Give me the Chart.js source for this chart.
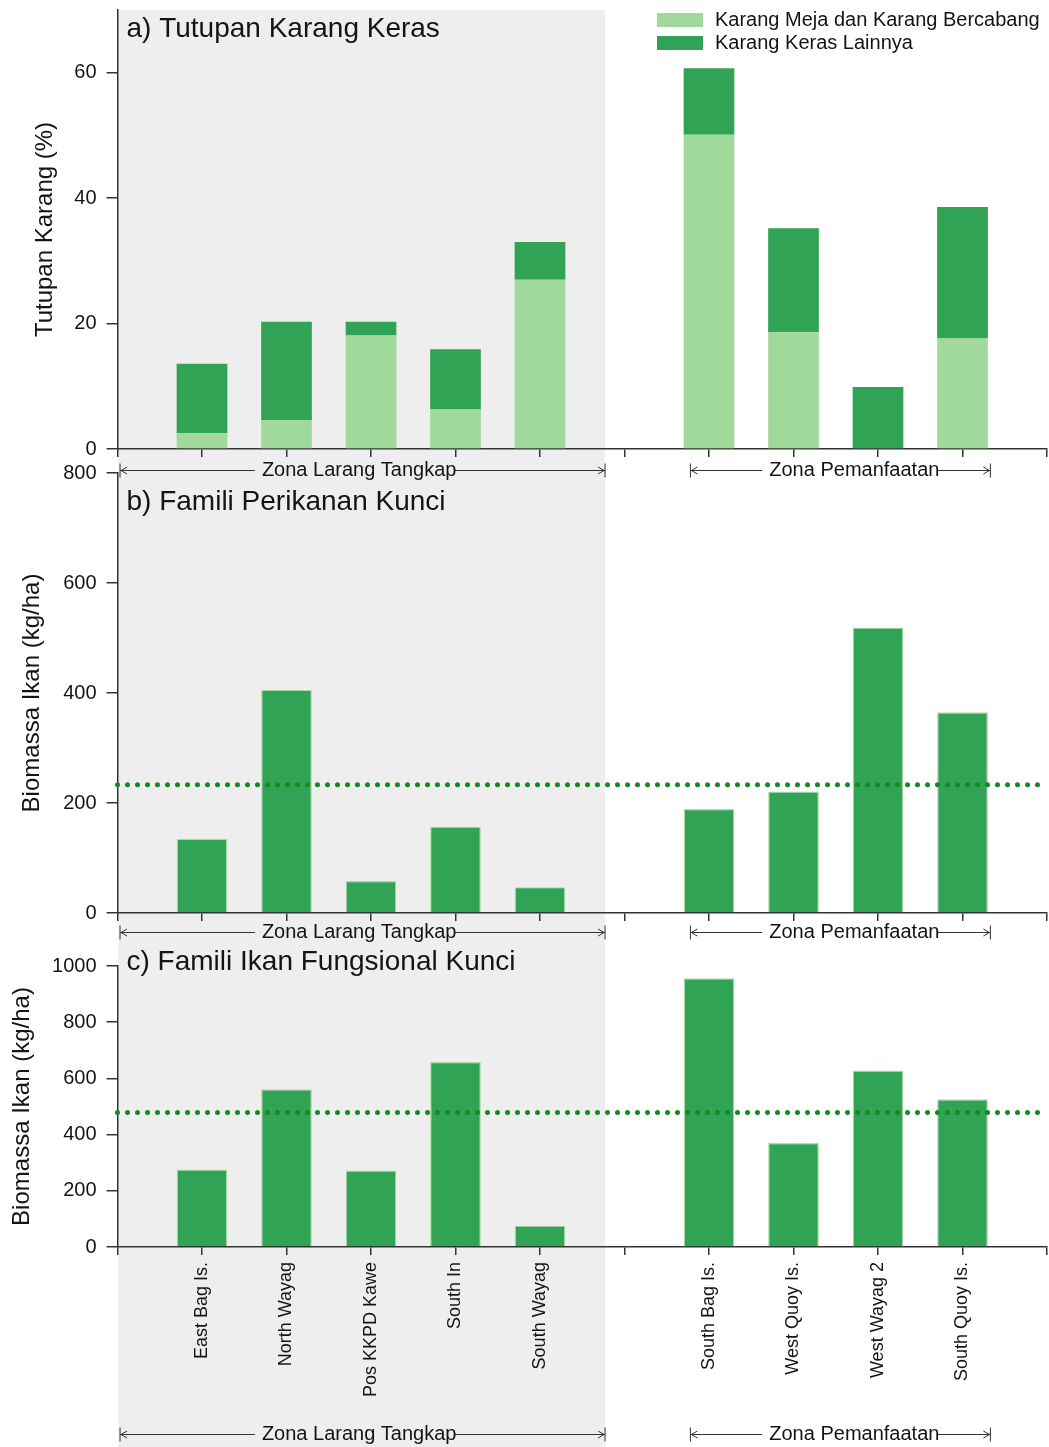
<!DOCTYPE html>
<html>
<head>
<meta charset="utf-8">
<script src="https://cdn.jsdelivr.net/npm/chart.js@4.4.1/dist/chart.umd.min.js"></script>
<style>
	body { margin:0; background:#fff; width:1049px; height:1447px; position:relative; overflow:hidden; }
	canvas { position:absolute; left:0; }
</style>
</head>
<body>
<canvas id="ca" style="top:0" width="1049" height="460"></canvas>
<canvas id="cb" style="top:460px" width="1049" height="462"></canvas>
<canvas id="cc" style="top:922px" width="1049" height="525"></canvas>
<script>
// sites per zone
const sitesLarang = ['East Bag Is.', 'North Wayag', 'Pos KKPD Kawe', 'South In', 'South Wayag'];
const sitesPemanfaatan = ['South Bag Is.', 'West Quoy Is.', 'West Wayag 2', 'South Quoy Is.'];

// a) hard coral cover (%)
const mejaLarang = [2.5, 4.6, 18.1, 6.3, 27.0];
const mejaPemanfaatan = [50.1, 18.6, 0, 17.6];
const kerasLarang = [11.1, 15.7, 2.2, 9.6, 6.0];
const kerasPemanfaatan = [10.6, 16.6, 9.9, 21.0];

// b) key fisheries families (kg/ha)
const perikananLarang = [135, 406, 58, 157, 47];
const perikananPemanfaatan = [189, 221, 519, 365];
const meanPerikanan = 233;

// c) key functional families (kg/ha)
const fungsionalLarang = [276, 561, 272, 658, 76];
const fungsionalPemanfaatan = [956, 370, 628, 526];
const meanFungsional = 479;

// y ticks
const ticksA = [0, 20, 40, 60];
const ticksB = [0, 200, 400, 600, 800];
const ticksC = [0, 200, 400, 600, 800, 1000];

const LIGHT = '#a1d99b', DARK = '#31a354', EDGE = '#a8dca2', DOT = '#138a22', GRAY = '#eeeeee', INK = '#141414', AXIS = '#333';
const FONT = "'Liberation Sans', Arial, sans-serif";

Chart.defaults.font.family = FONT;
Chart.defaults.color = INK;
Chart.defaults.animation = false;

// one blank slot before, between and after the zones
const labels = ['', ...sitesLarang, '', ...sitesPemanfaatan, ''];
const row = (a, b) => [null, ...a, null, ...b, null];
const flat = v => labels.map(() => v);

// zone brackets, in category units
const shadeTo = 5.77;
const zones = [
	{label:'Zona Larang Tangkap', from:0.03, to:5.77, mid:2.86},
	{label:'Zona Pemanfaatan', from:6.78, to:10.33, mid:8.72},
];

const band = {
	id:'band',
	beforeDraw(c, args, o) {
		const {ctx, chartArea:ca, scales:{x}} = c;
		const top = o.fromTop ? ca.top : 0;
		ctx.save();
		ctx.fillStyle = GRAY;
		ctx.fillRect(ca.left + 1, top, x.getPixelForValue(shadeTo) - ca.left - 1, c.height - top);
		ctx.restore();
	}
};

const panelTitle = {
	id:'panelTitle',
	afterDraw(c, args, o) {
		const {ctx, chartArea:ca} = c;
		ctx.save();
		ctx.font = '28px ' + FONT;
		ctx.fillStyle = INK;
		ctx.textBaseline = 'alphabetic';
		ctx.fillText(o.text, ca.left + 9, o.y);
		ctx.restore();
	}
};

const zoneRows = {
	id:'zoneRows',
	afterDraw(c, args, o) {
		const {ctx, scales:{x}} = c;
		ctx.save();
		ctx.strokeStyle = AXIS;
		ctx.lineWidth = 1;
		ctx.font = '20px ' + FONT;
		ctx.fillStyle = INK;
		ctx.textAlign = 'center';
		ctx.textBaseline = 'middle';
		o.rows.forEach(y => {
			zones.forEach(z => {
				const a = x.getPixelForValue(z.from), b = x.getPixelForValue(z.to), m = x.getPixelForValue(z.mid);
				const w = ctx.measureText(z.label).width;
				const ly = y + 0.5;
				ctx.beginPath();
				ctx.moveTo(a, ly - 7); ctx.lineTo(a, ly + 7);
				ctx.moveTo(b, ly - 7); ctx.lineTo(b, ly + 7);
				ctx.moveTo(a, ly); ctx.lineTo(m - w / 2 - 7, ly);
				ctx.moveTo(m + w / 2 - 2, ly); ctx.lineTo(b, ly);
				ctx.moveTo(a + 7, ly - 3.5); ctx.lineTo(a + 1, ly); ctx.lineTo(a + 7, ly + 3.5);
				ctx.moveTo(b - 7, ly - 3.5); ctx.lineTo(b - 1, ly); ctx.lineTo(b - 7, ly + 3.5);
				ctx.stroke();
				ctx.fillText(z.label, m, y);
			});
		});
		ctx.restore();
	}
};

const legendBox = {
	id:'legendBox',
	afterDraw(c, args, o) {
		const {ctx} = c;
		ctx.save();
		ctx.font = '20px ' + FONT;
		ctx.textBaseline = 'middle';
		c.data.datasets.forEach((d, i) => {
			const y = o.y + i * 23;
			ctx.fillStyle = d.backgroundColor;
			ctx.fillRect(o.x, y - 7, 46, 14);
			ctx.fillStyle = INK;
			ctx.fillText(d.label, o.x + 58, y);
		});
		ctx.restore();
	}
};

// keep the plot box where the layout padding puts it
const noEdge = s => { s.paddingTop = 0; s.paddingBottom = 0; s.paddingLeft = 0; s.paddingRight = 0; };

const yAxis = (ticks, max, title, padLeft) => ({
	min:0, max:max,
	afterBuildTicks: s => { s.ticks = ticks.map(v => ({value:v})); },
	afterFit: s => { s.width = 117.5 - padLeft; noEdge(s); },
	border: {color:AXIS, width:1.5},
	grid: {drawOnChartArea:false, color:AXIS, tickLength:11, lineWidth:1.5},
	ticks: {font:{size:20}, padding:10, color:INK, callback: v => String(v)},
	title: {display:true, text:title, font:{size:24}, padding:0, color:INK},
});

const xAxis = (height, showLabels, stacked) => ({
	type:'category', offset:false, stacked:stacked,
	afterFit: s => { s.height = height; noEdge(s); },
	border: {color:AXIS, width:1.5},
	grid: {drawOnChartArea:false, offset:false, color:AXIS, tickLength:8, lineWidth:1.5},
	ticks: {display:showLabels, autoSkip:false, maxRotation:90, minRotation:90, font:{size:18}, padding:7, color:INK},
});

const meanLine = v => ({
	type:'line', data:flat(v), borderColor:DOT, borderWidth:5, borderDash:[0, 10],
	borderCapStyle:'round', pointRadius:0, fill:false, order:0,
});

const base = {responsive:false, maintainAspectRatio:false, events:[]};

// a) Tutupan Karang Keras
new Chart(document.getElementById('ca'), {
	type:'bar',
	data: {
		labels:labels,
		datasets: [
			{label:'Karang Meja dan Karang Bercabang', data:row(mejaLarang, mejaPemanfaatan), backgroundColor:LIGHT, categoryPercentage:1, barPercentage:0.6},
			{label:'Karang Keras Lainnya', data:row(kerasLarang, kerasPemanfaatan), backgroundColor:DARK, categoryPercentage:1, barPercentage:0.6},
		]
	},
	options: Object.assign({}, base, {
		layout: {padding:{top:10, left:31, right:2, bottom:0}},
		plugins: {
			legend:{display:false}, tooltip:{enabled:false},
			band:{fromTop:true},
			panelTitle:{text:'a) Tutupan Karang Keras', y:37},
			legendBox:{x:657, y:20},
		},
		scales: {x:xAxis(11, false, true), y:Object.assign(yAxis(ticksA, 70, 'Tutupan Karang (%)', 31), {stacked:true})},
	}),
	plugins:[band, panelTitle, legendBox],
});

// b) Famili Perikanan Kunci
new Chart(document.getElementById('cb'), {
	type:'bar',
	data: {
		labels:labels,
		datasets: [
			{label:'Perikanan', data:row(perikananLarang, perikananPemanfaatan), backgroundColor:DARK, borderColor:EDGE, borderWidth:1.2, categoryPercentage:1, barPercentage:0.6, order:1},
			meanLine(meanPerikanan),
		]
	},
	options: Object.assign({}, base, {
		layout: {padding:{top:13, left:18, right:2, bottom:0}},
		plugins: {
			legend:{display:false}, tooltip:{enabled:false},
			band:{fromTop:false},
			panelTitle:{text:'b) Famili Perikanan Kunci', y:50},
			zoneRows:{rows:[10]},
		},
		scales: {x:xAxis(9, false, false), y:yAxis(ticksB, 800, 'Biomassa Ikan (kg/ha)', 18)},
	}),
	plugins:[band, panelTitle, zoneRows],
});

// c) Famili Ikan Fungsional Kunci
new Chart(document.getElementById('cc'), {
	type:'bar',
	data: {
		labels:labels,
		datasets: [
			{label:'Fungsional', data:row(fungsionalLarang, fungsionalPemanfaatan), backgroundColor:DARK, borderColor:EDGE, borderWidth:1.2, categoryPercentage:1, barPercentage:0.6, order:1},
			meanLine(meanFungsional),
		]
	},
	options: Object.assign({}, base, {
		layout: {padding:{top:44, left:8, right:2, bottom:0}},
		plugins: {
			legend:{display:false}, tooltip:{enabled:false},
			band:{fromTop:false},
			panelTitle:{text:'c) Famili Ikan Fungsional Kunci', y:48},
			zoneRows:{rows:[10, 512]},
		},
		scales: {x:xAxis(200, true, false), y:yAxis(ticksC, 1000, 'Biomassa Ikan (kg/ha)', 8)},
	}),
	plugins:[band, panelTitle, zoneRows],
});
</script>
</body>
</html>
